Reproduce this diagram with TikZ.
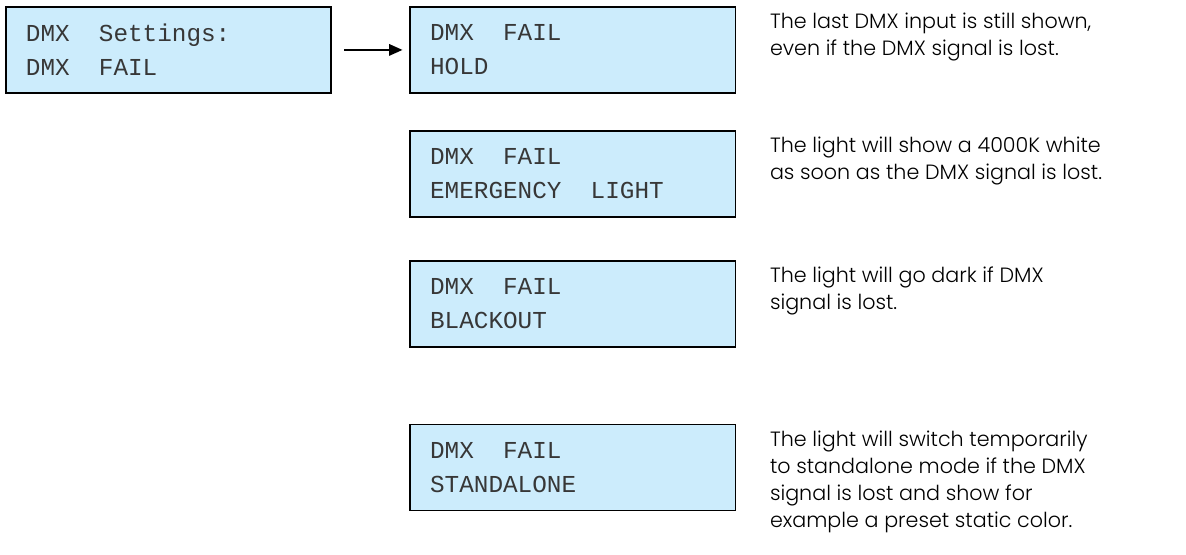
\documentclass[tikz,border=0pt]{standalone}
\usepackage{fontspec}
\setmainfont{Poppins}[UprightFont=* Light]
\newfontfamily\lcdfont{Liberation Mono}
\usetikzlibrary{arrows.meta,positioning}
\definecolor{lcdcolor}{RGB}{204,236,252}
\definecolor{dotcolor}{RGB}{55,55,55}
\newcommand{\lcdsp}{\hspace*{1.2em}}

\begin{document}
\begin{tikzpicture}[
    x=0.75pt, y=-0.75pt,
    node distance=27pt,
    lcd/.style={rectangle, draw=black, line width=1.4pt, fill=lcdcolor, text width=214pt, inner xsep=15pt, minimum height=64.5pt, align=left, text=dotcolor, font=\lcdfont\fontsize{18.25}{25.5}\selectfont},
    note/.style={inner sep=0pt, align=left, font=\fontsize{15.5}{20.25}\selectfont},
    arrow/.style={-{Triangle[length=10pt,width=8.5pt]}, line width=1.4pt, shorten <=9pt, shorten >=5pt}
]
\useasboundingbox (0,0) rectangle (1186,555);

% Menu entry
\node[lcd, anchor=north west] (menu) at (5,6) {DMX\lcdsp Settings:\\DMX\lcdsp FAIL};

% Options
\node[lcd, right=57.75pt of menu] (hold) {DMX\lcdsp FAIL\\HOLD};
\node[lcd, below=27pt of hold] (emergency) {DMX\lcdsp FAIL\\EMERGENCY\lcdsp LIGHT};
\node[lcd, below=31.5pt of emergency] (blackout) {DMX\lcdsp FAIL\\BLACKOUT};
\node[lcd, below=57pt of blackout] (standalone) {DMX\lcdsp FAIL\\STANDALONE};

% Descriptions
\node[note, right=25pt of hold.north east, anchor=north west, yshift=-5pt] (holdnote) {The last DMX input is still shown,\\even if the DMX signal is lost.};
\node[note, right=25pt of emergency.north east, anchor=north west, yshift=-5pt] (emergencynote) {The light will show a 4000K white\\as soon as the DMX signal is lost.};
\node[note, right=25pt of blackout.north east, anchor=north west, yshift=-5pt] (blackoutnote) {The light will go dark if DMX\\signal is lost.};
\node[note, right=25pt of standalone.north east, anchor=north west, yshift=-5pt] (standalonenote) {The light will switch temporarily\\to standalone mode if the DMX\\signal is lost and show for\\example a preset static color.};

% Arrow
\draw[arrow] (menu) -- (hold);

\end{tikzpicture}
\end{document}
